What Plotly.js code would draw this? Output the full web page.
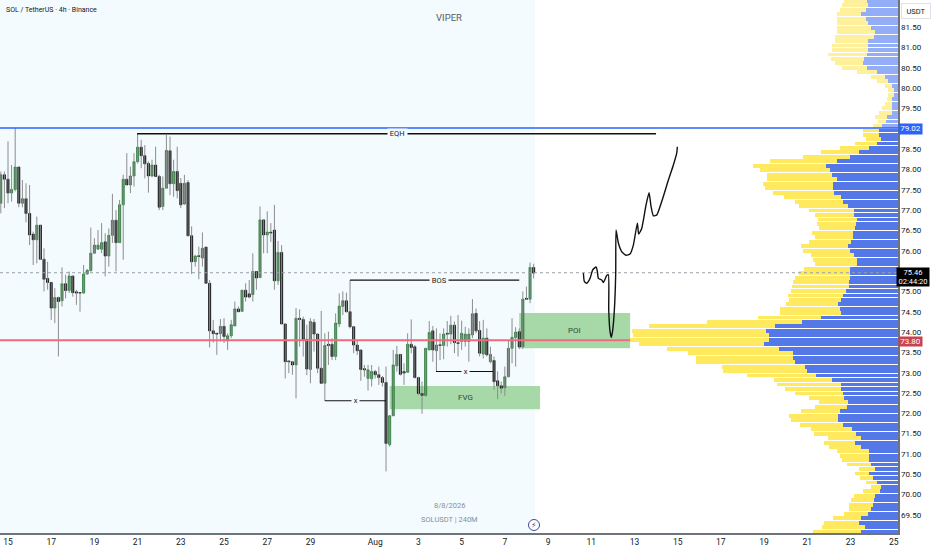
<!DOCTYPE html>
<html><head><meta charset="utf-8">
<script src="https://cdn.plot.ly/plotly-3.0.1.min.js"></script>
<style>html,body{margin:0;padding:0;background:#fff}#c{width:932px;height:550px}</style>
</head><body><div id="c"></div>
<script>
const firstCandle = Date.UTC(2026,6,14,16);
const candleHours = 4;
const opens = [77.17,77.87,77.76,77.42,77.51,78.06,77.17,77.28,76.92,76.41,
76.27,76.63,75.79,75.32,75.22,74.59,74.85,74.77,75.19,75.02,
75.38,74.99,74.97,74.96,75.43,75.51,75.94,76.04,76.04,76.22,
75.87,76.38,76.75,76.20,77.13,77.76,77.62,77.84,78.19,78.55,
78.34,78.15,77.84,78.11,77.83,77.09,77.54,78.46,77.65,77.95,
77.66,77.15,77.68,76.37,75.73,75.88,75.82,76.09,75.20,74.03,
73.97,73.96,74.14,73.79,73.91,74.15,74.57,74.51,75.03,74.94,
74.92,75.49,75.34,76.76,76.39,76.46,76.51,75.26,75.96,74.20,
73.29,73.27,73.19,74.34,74.31,73.82,73.08,74.24,73.95,73.11,
72.74,73.70,73.70,73.40,74.20,74.63,74.77,74.50,74.13,73.68,
73.56,73.10,72.86,72.85,73.03,72.95,72.88,72.76,71.23,71.94,
73.17,73.45,73.03,73.01,73.70,73.64,72.88,72.49,72.44,73.56,
74.03,73.54,73.69,73.67,73.97,73.95,74.17,73.74,73.77,73.77,
73.77,73.93,74.46,74.04,73.46,73.85,73.27,73.30,72.80,72.68,
72.63,72.90,73.60,73.86,74.01,73.64,74.83,74.81,75.59];
const highs = [77.95,77.95,78.69,78.11,79.02,78.07,77.74,77.66,77.62,76.47,
76.84,76.63,76.06,75.73,75.22,75.08,74.87,75.59,75.41,75.49,
75.38,75.04,74.97,75.65,75.55,76.57,76.31,76.51,76.68,76.43,
76.55,77.40,77.00,77.25,77.87,78.40,78.07,78.40,78.88,78.73,
78.60,78.20,78.24,78.56,77.87,77.83,78.85,78.81,78.24,78.56,
77.79,77.87,77.74,76.60,75.90,76.10,76.45,76.10,75.28,74.30,
73.97,74.32,74.34,73.97,74.30,74.75,74.63,75.04,75.20,75.28,
75.94,75.49,77.09,76.78,76.97,76.68,77.13,76.24,76.14,74.20,
73.29,73.29,74.59,74.56,74.38,74.18,74.34,74.32,73.97,74.52,
73.97,74.01,73.85,74.46,74.95,75.00,74.97,75.28,74.13,73.81,
73.56,73.19,73.19,73.19,73.07,73.15,72.92,73.15,71.96,73.56,
73.66,73.45,73.23,73.97,74.31,73.68,72.90,72.78,73.60,74.27,
74.15,74.09,73.97,74.09,74.27,74.40,74.26,74.42,74.28,74.13,
74.09,74.81,74.58,74.27,74.30,74.09,73.64,73.40,73.03,72.78,
73.15,73.79,74.34,74.12,74.09,75.00,75.12,75.71,75.68];
const lows = [76.92,77.05,77.17,77.21,77.46,77.07,77.07,76.70,76.14,75.65,
75.69,75.78,75.00,75.04,74.30,74.22,73.40,74.63,74.83,74.96,
74.87,74.67,74.50,74.94,75.41,75.49,75.94,76.02,75.94,75.37,
75.61,76.19,75.49,76.19,75.78,77.62,77.42,77.58,78.15,78.03,
77.78,77.43,77.81,77.83,77.00,77.00,77.54,77.37,77.33,77.29,
77.05,77.13,76.35,75.43,75.61,75.30,75.61,75.19,73.62,73.74,
73.44,73.77,73.73,73.56,73.85,74.14,74.50,74.50,74.75,74.83,
74.75,75.04,75.33,75.94,75.94,76.22,75.04,75.16,74.18,72.86,
72.99,72.95,72.37,73.64,73.40,72.94,72.74,73.52,72.99,72.74,
72.31,73.19,73.31,73.31,74.12,74.42,74.48,74.09,73.48,73.44,
72.80,72.90,72.56,72.66,72.86,72.70,72.66,70.57,71.18,71.94,
73.03,72.93,72.70,73.00,73.48,72.86,72.45,71.99,72.41,73.56,
73.27,73.03,73.31,73.33,73.64,73.70,73.48,73.40,73.56,73.64,
73.27,73.85,73.97,73.40,73.35,73.40,73.23,72.58,72.35,72.49,
72.43,72.89,73.23,73.15,73.58,73.58,74.79,74.71,75.32];
const closes = [77.87,77.76,77.42,77.51,78.06,77.17,77.28,76.92,76.39,76.27,
76.63,75.79,75.30,75.22,74.59,74.85,74.75,75.19,75.02,75.38,
74.97,74.96,74.96,75.43,75.52,75.94,76.14,76.14,76.20,75.87,
76.38,76.75,76.20,77.13,77.76,77.62,77.84,78.19,78.55,78.34,
78.14,77.84,78.11,77.83,77.07,77.54,78.47,77.65,77.95,77.48,
77.13,77.66,76.37,75.73,75.87,75.86,76.06,75.20,74.03,73.96,
73.95,74.14,73.89,73.91,74.18,74.57,74.50,75.03,74.86,74.86,
75.49,75.33,76.76,76.39,76.46,76.44,75.26,75.96,74.20,73.27,
73.27,73.19,74.34,74.31,73.82,73.09,74.26,73.95,73.11,72.74,
73.67,73.67,73.40,74.22,74.64,74.77,74.50,74.13,73.68,73.54,
73.08,73.07,73.07,73.03,72.95,72.88,72.76,71.26,71.94,73.19,
73.45,72.96,72.99,73.70,73.62,72.88,72.49,72.44,73.60,73.99,
73.56,73.68,73.67,73.95,73.95,74.17,73.74,73.72,73.97,73.95,
73.95,74.45,74.03,73.48,73.85,73.44,73.45,72.78,72.68,72.62,
72.90,73.60,73.87,74.00,73.63,74.81,74.81,75.59,75.45];

const tickDates = ['2026-07-15','2026-07-17','2026-07-19','2026-07-21','2026-07-23','2026-07-25','2026-07-27','2026-07-29','2026-08-01','2026-08-03','2026-08-05','2026-08-07','2026-08-09','2026-08-11','2026-08-13','2026-08-15','2026-08-17','2026-08-19','2026-08-21','2026-08-23','2026-08-25'];
const tickLabels = ['15','17','19','21','23','25','27','29','Aug','3','5','7','9','11','13','15','17','19','21','23','25'];
const priceTicks = [81.5,81,80.5,80,79.5,78.5,78,77.5,77,76.5,76,75,74.5,74,73.5,73,72.5,72,71.5,71,70.5,70,69.5];

const profilePrices = [82.15,82.04,81.93,81.82,81.71,81.60,81.49,81.38,81.27,81.16,
81.05,80.94,80.83,80.72,80.61,80.50,80.39,80.28,80.17,80.06,
79.95,79.84,79.73,79.62,79.51,79.40,79.29,79.18,79.07,78.96,
78.85,78.75,78.64,78.53,78.42,78.31,78.20,78.09,77.98,77.87,
77.76,77.65,77.54,77.43,77.32,77.21,77.10,76.99,76.88,76.77,
76.66,76.55,76.44,76.33,76.22,76.11,76.00,75.89,75.78,75.67,
75.56,75.45,75.34,75.23,75.12,75.01,74.90,74.79,74.68,74.57,
74.47,74.36,74.25,74.14,74.03,73.92,73.81,73.70,73.59,73.48,
73.37,73.26,73.15,73.04,72.93,72.82,72.71,72.60,72.49,72.38,
72.27,72.16,72.05,71.94,71.83,71.72,71.61,71.50,71.39,71.28,
71.17,71.07,70.96,70.85,70.74,70.63,70.52,70.41,70.30,70.19,
70.08,69.97,69.86,69.75,69.64,69.53,69.42,69.31,69.20,69.09];
const profileBlue = [31,30,32.3,36.7,32.3,30,26.7,23.3,24.3,30,
30,30,31,34.3,35,31,21.3,13.3,10,5.7,
4.3,4.3,5.7,6,6,6.3,10.7,12.3,16.3,19,
19.3,17.3,21.3,29.3,38.7,47.7,61.3,72,67.7,66,
61,64.7,65.3,63.7,57.3,55.3,50,43.7,43.7,41,
42.3,43,44.7,45,46.7,50.3,47.7,43.7,41,41.3,
47.7,48,47.7,49.3,49.3,52.3,54.7,57.3,60,58.3,
57.3,76.7,96.3,123,132.3,129,129,133.7,119,105.3,
105.3,103,93,91,82,66.3,57,57,55,53.7,
50,51,58.3,59.7,60.3,54.7,46.3,42.3,37,43,
36.7,28.7,28.7,29,27,23.3,29,24.7,21,16.7,
18.3,23.3,24,25,27,30.3,37.3,39,33.3,37.3];
const profileYellow = [23.3,26.3,26,24.3,29,30.7,34,37.3,38.3,33.3,
35.7,36,39,32.7,27.7,25.3,20,13.3,10.7,7,
5.7,5.3,5,7,10,12.7,12,7.3,8.3,16,
15.7,14.3,22,28.3,38,47,67,73.3,70.3,65.3,
70.3,70,67.3,61.3,57,47.7,49.3,45.7,39.7,39.3,
38.7,36.3,41.3,38,42,47,47.7,43.7,44.3,42,
46,51,55.7,55.7,56.3,54.3,55.3,51.7,51.7,60,
61,63.3,94.4,126,134,136,139,125,112,104.4,
96.7,99,83,83.7,69,57.4,64,56.3,48,35.3,
29.3,32.3,38.3,49.3,46.3,43.7,41,41.7,33,31.3,
32,32.3,29.7,26.7,23.7,15.7,14,13.7,11.3,10.7,
16.3,21,23,24.3,22.3,24,27.3,34.7,42.3,48];

const sketchTimes = ['2026-08-10 15:16','2026-08-10 16:22','2026-08-10 19:00','2026-08-10 22:40','2026-08-11 01:38','2026-08-11 05:20','2026-08-11 06:49','2026-08-11 07:55','2026-08-11 11:37','2026-08-11 13:29','2026-08-11 17:11','2026-08-11 19:02','2026-08-11 19:25','2026-08-11 20:53','2026-08-11 22:22','2026-08-11 23:51','2026-08-12 01:42','2026-08-12 03:11','2026-08-12 03:33','2026-08-12 06:08','2026-08-12 09:50','2026-08-12 14:40','2026-08-12 19:06','2026-08-12 22:48','2026-08-13 03:15','2026-08-13 04:43','2026-08-13 08:04','2026-08-13 12:53','2026-08-13 16:13','2026-08-13 18:26','2026-08-13 21:01','2026-08-14 00:45','2026-08-14 06:17','2026-08-14 13:42','2026-08-14 19:15','2026-08-14 22:56','2026-08-14 23:41'];
const sketchPrices = [75.46,75.24,75.20,75.32,75.53,75.60,75.49,75.32,75.28,75.22,75.39,75.41,74.55,74.01,73.87,74.05,74.55,75.45,76.51,76.19,75.98,75.89,75.92,76.14,76.68,76.41,76.55,77.13,77.43,77.09,76.86,76.88,77.21,77.74,78.11,78.40,78.56];

const lastPrice = 75.46, keyHigh = 79.02, keyLow = 73.80;

const fmt = ms => new Date(ms).toISOString().slice(0,16).replace('T',' ');
const times = opens.map((_,i)=>fmt(firstCandle + i*candleHours*3600000));
const wx=[], wy=[];
times.forEach((t,i)=>{wx.push(t,t,null);wy.push(highs[i],lows[i],null);});

const FONT = 'Roboto, "Open Sans", sans-serif';
const W=898,H=533;
const px=v=>v/W, py=v=>1-v/H;

const isUpper = profilePrices.map(p=>p>keyHigh);
const data = [
 {type:'scatter',mode:'lines',x:wx,y:wy,line:{color:'#8c8c8c',width:1},hoverinfo:'skip',showlegend:false},
 {type:'candlestick',x:times,open:opens,close:closes,
  high:opens.map((o,i)=>Math.max(o,closes[i])),low:opens.map((o,i)=>Math.min(o,closes[i])),
  increasing:{line:{color:'#25662f',width:0.6},fillcolor:'#2f9142'},
  decreasing:{line:{color:'#000000',width:0.6},fillcolor:'#000000'},
  whiskerwidth:0,hoverinfo:'skip',showlegend:false},
 {type:'scatter',mode:'lines',x:sketchTimes,y:sketchPrices,line:{color:'#111111',width:1.4,shape:'spline',smoothing:0.5},hoverinfo:'skip',showlegend:false},
 {type:'bar',orientation:'h',xaxis:'x2',y:profilePrices,x:profileBlue,width:0.095,
  marker:{color:isUpper.map(u=>u?'#93aef7':'#5478e8'),line:{width:0}},hoverinfo:'skip',showlegend:false},
 {type:'bar',orientation:'h',xaxis:'x2',y:profilePrices,x:profileYellow,width:0.095,
  marker:{color:isUpper.map(u=>u?'#fff09c':'#ffe95f'),line:{width:0}},hoverinfo:'skip',showlegend:false}
];

const hline=(x0,x1,y,color,width,dash,xref,layer)=>({type:'line',xref:xref||'x',yref:'y',x0,x1,y0:y,y1:y,line:{color,width,dash:dash||'solid'},layer:layer||'above'});
const shapes=[
 {type:'rect',xref:'x',yref:'paper',x0:'2026-07-14',x1:'2026-08-08 09:36',y0:0,y1:1,fillcolor:'#f3fbff',line:{width:0},layer:'below'},
 {type:'rect',xref:'x',yref:'y',x0:'2026-08-01 16:00',x1:'2026-08-08 15:07',y0:72.10,y1:72.67,fillcolor:'#a6d8a8',line:{width:0},layer:'below'},
 {type:'rect',xref:'x',yref:'y',x0:'2026-08-07 16:00',x1:'2026-08-12 19:12',y0:73.60,y1:74.47,fillcolor:'#a6d8a8',line:{width:0},layer:'below'},
 hline(0,1,lastPrice,'#9a9fa8',1,'dot','paper'),
 hline(0,1,keyHigh,'#2962ff',1.6,'solid','paper'),
 hline('2026-07-14','2026-08-12 19:12',keyLow,'#ef6b7b',2),
 hline('2026-07-20 23:20','2026-08-14 00:00',78.88,'#111111',1.5),
 hline('2026-07-30 20:00','2026-08-07 16:00',75.28,'#111111',1.2),
 hline('2026-07-29 16:00','2026-08-01 12:00',72.31,'#111111',1.2),
 hline('2026-08-03 19:30','2026-08-06 10:50',73.03,'#111111',1.2),
 {type:'circle',xref:'paper',yref:'paper',x0:px(528.5),x1:px(539.5),y0:py(530.5),y1:py(519.5),line:{color:'#3f4a9c',width:1},fillcolor:'#ffffff',layer:'above'}
];

const note=(x,y,text,opt)=>Object.assign({xref:'paper',yref:'paper',x:px(x),y:py(y),xanchor:'center',yanchor:'middle',text,showarrow:false,font:{family:FONT,size:8,color:'#131722'}},opt||{});
const annotations=[
 note(3.5,10,'SOL / TetherUS · 4h · Binance',{xanchor:'left',font:{family:FONT,size:7,color:'#131722'}}),
 note(449,17,'VIPER',{font:{family:FONT,size:9.5,color:'#565a64'}}),
 note(449,505,'8/8/2026',{font:{family:FONT,size:7.5,color:'#8a8f99'}}),
 note(449,519,'SOLUSDT | 240M',{font:{family:FONT,size:7.5,color:'#8a8f99'}}),
 note(397,133.5,' EQH ',{bgcolor:'#f3fbff',font:{family:FONT,size:7.5,color:'#222'},borderpad:0}),
 note(439,280,' BOS ',{bgcolor:'#f3fbff',font:{family:FONT,size:7.5,color:'#222'},borderpad:0}),
 note(355,400.5,' x ',{bgcolor:'#f3fbff',font:{family:FONT,size:7.5,color:'#222'},borderpad:0}),
 note(465,371.5,' x ',{bgcolor:'#f3fbff',font:{family:FONT,size:7.5,color:'#222'},borderpad:0}),
 note(465,397.5,'FVG',{font:{family:FONT,size:8,color:'#33493a'}}),
 note(574,330.5,'POI',{font:{family:FONT,size:8,color:'#33493a'}}),
 note(534,525,'⚡',{font:{family:'"DejaVu Sans"',size:8,color:'#3f4a9c'}}),
 note(915.5,10.5,'USDT',{bordercolor:'#dfe2ea',borderwidth:1,borderpad:0,width:28,height:14,bgcolor:'#ffffff',font:{family:FONT,size:7.5,color:'#131722'}}),
 note(910,128.5,'79.02',{bgcolor:'#2962ff',width:23,height:9.5,borderpad:0,font:{family:FONT,size:8,color:'#ffffff'}}),
 note(910,341.7,'73.80',{bgcolor:'#c9424f',width:23,height:9,borderpad:0,font:{family:FONT,size:8,color:'#ffffff'}}),
 note(913.5,276.8,'75.46<br>02:44:20',{bgcolor:'#000000',width:32,height:18,borderpad:0,font:{family:FONT,size:7.5,color:'#ffffff'}})
];

const layout={
 width:932,height:550,margin:{l:0,r:34,t:0,b:17,pad:0},
 paper_bgcolor:'#ffffff',plot_bgcolor:'#ffffff',showlegend:false,
 barmode:'stack',bargap:0,boxgap:0.12,
 xaxis:{type:'date',range:['2026-07-14 15:07','2026-08-25 04:48'],rangeslider:{visible:false},
  tickmode:'array',tickvals:tickDates,ticktext:tickLabels,ticks:'',showgrid:false,zeroline:false,
  showline:true,linecolor:'#6f737c',linewidth:1.5,tickfont:{family:FONT,size:8.5,color:'#131722'}},
 xaxis2:{overlaying:'x',anchor:'y',range:[W,0],visible:false,fixedrange:true},
 yaxis:{side:'right',range:[69.056,82.17],tickmode:'array',tickvals:priceTicks,
  ticktext:priceTicks.map(v=>v.toFixed(2)),ticks:'',showgrid:false,zeroline:false,showline:true,linecolor:'#6f737c',linewidth:1.5,
  tickfont:{family:FONT,size:8,color:'#131722'}},
 shapes,annotations
};
Plotly.newPlot('c',data,layout,{displayModeBar:false,responsive:false,staticPlot:true});
</script></body></html>
